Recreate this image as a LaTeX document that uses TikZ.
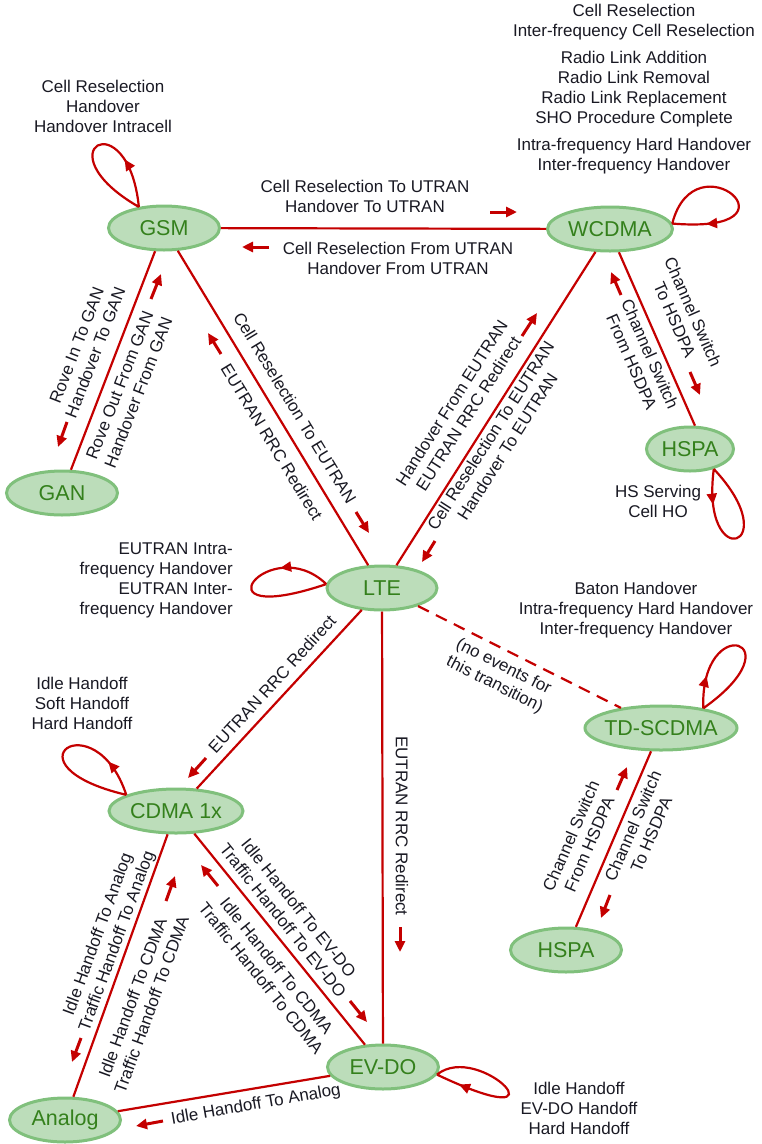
\documentclass[tikz,border=0pt]{standalone}
\usepackage{fontspec}
\setmainfont{Liberation Sans}
\usepackage{xcolor}
\usetikzlibrary{arrows.meta,shapes.geometric,decorations.markings}

\definecolor{statefill}{RGB}{188,221,186}
\definecolor{stateline}{RGB}{128,192,124}
\definecolor{statetext}{RGB}{52,128,28}
\definecolor{trred}{RGB}{196,0,0}
\definecolor{lbltext}{RGB}{25,25,35}

\begin{document}
\begin{tikzpicture}[x=1pt,y=-1pt,
    state/.style={ellipse,draw=stateline,line width=3pt,fill=statefill,text=statetext,
      font=\fontsize{21.5}{24}\selectfont,minimum height=44pt,inner sep=0pt},
    trans/.style={draw=trred,line width=2.2pt},
    nolink/.style={trans,dash pattern=on 12pt off 8pt},
    dirarr/.style={draw=trred,line width=3pt,-{Triangle[length=11pt,width=10pt]}},
    selfloop/.style={trans,postaction={decorate},
      decoration={markings,mark=at position #1 with {\arrow[trred]{Triangle[length=11pt,width=10pt]}}}},
    lbl/.style={font=\fontsize{17}{20}\selectfont,text=lbltext,align=center,inner sep=0pt}]
  \useasboundingbox (0,0) rectangle (762,1144);

  % states
  \node[state,minimum width=111pt] (gsm) at (164,228) {GSM};
  \node[state,minimum width=125pt] (wcdma) at (610,229) {WCDMA};
  \node[state,minimum width=111pt] (gan) at (62,493) {GAN};
  \node[state,minimum width=110pt] (lte) at (382,588) {LTE};
  \node[state,minimum width=87pt] (hspa) at (690,449) {HSPA};
  \node[state,minimum width=152pt,inner xsep=-4pt] (tdscdma) at (661,728) {TD-SCDMA};
  \node[state,minimum width=111pt] (hspab) at (566,950) {HSPA};
  \node[state,minimum width=134pt] (cdma) at (176,811) {CDMA 1x};
  \node[state,minimum width=111pt] (evdo) at (383,1067) {EV-DO};
  \node[state,minimum width=111pt] (analog) at (65,1120) {Analog};

  % transitions
  \draw[trans] (gsm) -- (wcdma);
  \draw[trans] (gsm) -- (gan);
  \draw[trans] (gsm) -- (lte);
  \draw[trans] (wcdma) -- (lte);
  \draw[trans] (wcdma.-69) -- (hspa.78);
  \draw[nolink] (lte) -- (tdscdma);
  \draw[trans] (lte) -- (cdma);
  \draw[trans] (lte) -- (evdo);
  \draw[trans] (tdscdma) -- (hspab);
  \draw[trans] (cdma) -- (analog);
  \draw[trans] (cdma) -- (evdo);
  \draw[trans] (evdo) -- (analog);

  % self transitions
  \draw[selfloop=0.3] (gsm.140) .. controls (128,100) and (40,150) .. (gsm.140);
  \draw[selfloop=0.8] (wcdma.5) .. controls (695,135) and (810,235) .. (wcdma.5);
  \draw[selfloop=0.22] (hspa.-40) .. controls (700,575) and (788,548) .. (hspa.-40);
  \draw[selfloop=0.2] (tdscdma.25) .. controls (700,610) and (800,640) .. (tdscdma.25);
  \draw[selfloop=0.3] (lte.176) .. controls (270,530) and (190,630) .. (lte.176);
  \draw[selfloop=0.22] (cdma.162) .. controls (95,700) and (0,765) .. (cdma.162);
  \draw[selfloop=0.85] (evdo.-8) .. controls (480,1040) and (575,1140) .. (evdo.-8);

  % direction marks beside the labels
  \foreach \tx/\ty/\hx/\hy in {490/212/517/212, 269/247/242/247, 67/422/58/447,
      151/299/161/274, 221/354/208/333, 356/512/369/533, 522/336/537/313,
      435/541/422/562, 690/372/700/395, 621/295/611/272, 206/758/188/778,
      400/927/400/952, 617/790/627/767, 610/895/601/918, 81/1038/72/1062,
      166/901/175/876, 350/1001/367/1022, 218/886/201/865, 163/1121/136/1126}
    \draw[dirarr] (\tx,\ty) -- (\hx,\hy);

  % transition labels
  \node[lbl] (utranto) at (365,196) {Cell Reselection To UTRAN\\Handover To UTRAN};
  \node[lbl] (utranfrom) at (398,258) {Cell Reselection From UTRAN\\Handover From UTRAN};
  \node[lbl,rotate=68.7] (ganto) at (86,349) {Rove In To GAN\\Handover To GAN};
  \node[lbl,rotate=68.7] (ganfrom) at (129,389) {Rove Out From GAN\\Handover From GAN};
  \node[lbl,rotate=-58.7] (gsmtolte) at (295,408) {Cell Reselection To EUTRAN};
  \node[lbl,rotate=-58.7] (ltetogsm) at (272,442) {EUTRAN RRC Redirect};
  \node[lbl,rotate=57.4] (ltetowcdma) at (460,408) {Handover From EUTRAN\\EUTRAN RRC Redirect};
  \node[lbl,rotate=57.4] (wcdmatolte) at (499,441) {Cell Reselection To EUTRAN\\Handover To EUTRAN};
  \node[lbl,rotate=-66.2] (tohsdpa) at (684,316) {Channel Switch\\To HSDPA};
  \node[lbl,rotate=-66.2] (fromhsdpa) at (641,358) {Channel Switch\\From HSDPA};
  \node[lbl,rotate=-26.9] (noevents) at (499,676) {(no events for\\this transition)};
  \node[lbl,rotate=47.5] (ltetocdma) at (272,684) {EUTRAN RRC Redirect};
  \node[lbl,rotate=-90] (ltetoevdo) at (402,826) {EUTRAN RRC Redirect};
  \node[lbl,rotate=66.6] (tdfromhsdpa) at (580,840) {Channel Switch\\From HSDPA};
  \node[lbl,rotate=66.6] (tdtohsdpa) at (642,830) {Channel Switch\\To HSDPA};
  \node[lbl,rotate=69.9] (toanalog) at (108,938) {Idle Handoff To Analog\\Traffic Handoff To Analog};
  \node[lbl,rotate=69.9] (tocdmaa) at (142,1001) {Idle Handoff To CDMA\\Traffic Handoff To CDMA};
  \node[lbl,rotate=-51.2] (toevdo) at (291,914) {Idle Handoff To EV-DO\\Traffic Handoff To EV-DO};
  \node[lbl,rotate=-51.2] (tocdmab) at (269,972) {Idle Handoff To CDMA\\Traffic Handoff To CDMA};
  \node[lbl,rotate=9.9] (evdotoanalog) at (256,1105) {Idle Handoff To Analog};

  % self transition labels
  \node[lbl] (gsmloop) at (103,106) {Cell Reselection\\Handover\\Handover Intracell};
  \node[lbl] (wcdmaloop) at (634,89) {Cell Reselection\\Inter-frequency Cell Reselection\\[7pt]
    Radio Link Addition\\Radio Link Removal\\Radio Link Replacement\\SHO Procedure Complete\\[7pt]
    Intra-frequency Hard Handover\\Inter-frequency Handover};
  \node[lbl] (hspaloop) at (658,501) {HS Serving\\Cell HO};
  \node[lbl,align=right,anchor=east] (lteloop) at (233,580) {EUTRAN Intra-\\frequency Handover\\EUTRAN Inter-\\frequency Handover};
  \node[lbl] (tdloop) at (636,610) {Baton Handover\\Intra-frequency Hard Handover\\Inter-frequency Handover};
  \node[lbl] (cdmaloop) at (82,703) {Idle Handoff\\Soft Handoff\\Hard Handoff};
  \node[lbl] (evdoloop) at (579,1108) {Idle Handoff\\EV-DO Handoff\\Hard Handoff};
\end{tikzpicture}
\end{document}
